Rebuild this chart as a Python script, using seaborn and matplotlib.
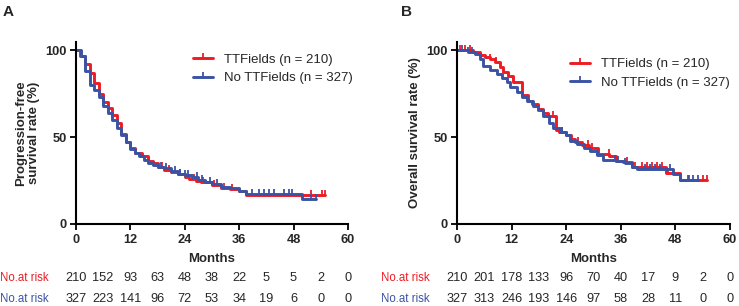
import numpy as np
import pandas as pd
import matplotlib
import matplotlib.pyplot as plt
import matplotlib.transforms as mtransforms
import seaborn as sns
from matplotlib.lines import Line2D

matplotlib.use('Agg')

RED = '#ED1C24'
BLUE = '#3A53A4'

# Panel A: progression-free survival (step times in months, survival %)
pfs_red_time = [0, 0.9, 2.0, 3.0, 4.0, 5.0, 6.0, 7.0, 8.0, 9.0, 10.0, 11.0, 12.0, 13.0,
                14.5, 16.0, 17.0, 18.0, 19.5, 21.0, 22.5, 24.0, 25.0, 26.5, 27.5, 30.0,
                32.0, 34.0, 36.0, 37.5, 55.0]
pfs_red_surv = [100, 97, 92, 87, 81, 75, 70, 67, 63, 58, 52, 47, 44, 41,
                39, 36.5, 35, 33, 31, 30, 28.5, 27, 26, 25, 24, 22.5,
                21, 20, 19, 16.5, 16.5]
pfs_red_cens = [19, 20.5, 23, 26, 28, 30.5, 32.7, 34.5, 51.8, 54.2, 55]

pfs_blue_time = [0, 1.2, 2.0, 3.0, 4.0, 5.0, 6.0, 7.0, 8.0, 9.0, 10.0, 11.0, 12.0, 13.0,
                 14.0, 15.0, 16.0, 17.0, 18.0, 19.5, 21.0, 22.5, 24.0, 25.5, 27.0, 28.5,
                 30.0, 32.0, 34.0, 36.0, 37.5, 49.8, 52.9]
pfs_blue_surv = [100, 97, 88, 80, 77, 73, 68, 64, 60, 55, 51, 47, 43, 41,
                 39, 37, 35, 34, 33, 32, 30.5, 29, 28, 27, 25.5, 24,
                 23, 21.5, 20.5, 19, 17.2, 14.5, 14.5]
pfs_blue_cens = [18.8, 19.8, 21.8, 22.9, 24, 24.8, 26.6, 27.8, 29.5, 31.2, 38.9, 40.4,
                 41.5, 42.6, 43.7, 45.9, 47, 47.7, 51.8, 52.9]

# Panel B: overall survival
os_red_time = [0, 3.5, 5.0, 6.2, 7.3, 8.4, 9.5, 10.2, 11.1, 12.4, 14.2, 15.5, 16.5, 17.8,
               18.8, 20.0, 21.8, 22.5, 24.0, 25.0, 26.0, 27.5, 29.0, 31.0, 33.5, 35.0,
               36.5, 38.5, 46.0, 49.0, 55.0]
os_red_surv = [100, 99, 97.5, 96, 95, 93, 90.5, 87.5, 85, 82, 74, 71, 69, 66,
               64, 62, 54, 53, 51, 49, 47, 45.5, 44, 40.5, 39, 36,
               35.5, 33, 29.5, 25.5, 25.5]
os_red_cens = [0.7, 1.8, 2.9, 7.3, 8.5, 21, 23, 26.5, 28.7, 29.7, 33.3, 37.3, 39.2, 40.6,
               41.7, 42.8, 43.9, 45, 46.4, 51, 54, 55]

os_blue_time = [0, 2.5, 4.0, 5.0, 5.7, 7.2, 8.7, 9.8, 11.0, 11.6, 13.1, 14.2, 15.3, 16.7,
                17.8, 18.9, 20.2, 21.0, 22.6, 24.0, 24.8, 26.3, 28.0, 29.2, 30.7, 32.0,
                35.0, 37.0, 38.5, 39.5, 47.5, 49.0, 53.0]
os_blue_surv = [100, 99, 98, 95, 91, 88.5, 86.5, 84, 82, 79, 76, 73, 71, 68,
                65.5, 62, 58, 55, 53, 51, 47.5, 46, 44, 42, 40, 37,
                36, 35, 33, 31.5, 29, 25.5, 25.5]
os_blue_cens = [1, 2.5, 3.2, 23, 30.7, 34.7, 35.4, 37, 41.3, 42.5, 43.5, 44.6, 46.8,
                50.7, 51.9, 53]

# Numbers at risk
risk_months = [0, 6, 12, 18, 24, 30, 36, 42, 48, 54, 60]
pfs_red_risk = [210, 152, 93, 63, 48, 38, 22, 5, 5, 2, 0]
pfs_blue_risk = [327, 223, 141, 96, 72, 53, 34, 19, 6, 0, 0]
os_red_risk = [210, 201, 178, 133, 96, 70, 40, 17, 9, 2, 0]
os_blue_risk = [327, 313, 246, 193, 146, 97, 58, 28, 11, 0, 0]

legend_labels = ['TTFields (n = 210)', 'No TTFields (n = 327)']

sns.set_style('ticks')
plt.rcParams['font.family'] = ['Liberation Sans', 'DejaVu Sans']


def step_value(times, surv, at):
    times = np.asarray(times)
    surv = np.asarray(surv)
    idx = np.searchsorted(times, at, side='right') - 1
    return surv[np.clip(idx, 0, len(surv) - 1)]


def draw_curve(ax, times, surv, cens, color):
    df = pd.DataFrame({'month': times, 'surv': surv})
    sns.lineplot(data=df, x='month', y='surv', ax=ax, color=color, lw=2.1,
                 drawstyle='steps-post', estimator=None, sort=False)
    ax.plot(cens, step_value(times, surv, cens), ls='none', marker=2,
            ms=3.5, mew=1.3, color=color)


def format_axis(ax, ylabel, labelpad):
    ax.set(xlim=(0, 60), ylim=(0, 105))
    ax.set_xticks(range(0, 61, 12))
    ax.set_yticks([0, 50, 100])
    for lab in ax.get_xticklabels() + ax.get_yticklabels():
        lab.set_fontweight('bold')
    ax.tick_params(axis='x', labelsize=9.2, length=4, width=1.3, pad=3.5, color='black')
    ax.tick_params(axis='y', labelsize=9.3, length=4.5, width=1.3, pad=2, color='black')
    for side in ['top', 'right']:
        ax.spines[side].set_visible(False)
    for side in ['left', 'bottom']:
        ax.spines[side].set_linewidth(1.5)
        ax.spines[side].set_color('black')
    ax.set_xlabel('Months', fontsize=9.5, fontweight='bold', labelpad=5)
    ax.set_ylabel(ylabel, fontsize=9.5, fontweight='bold', labelpad=labelpad,
                  linespacing=1.1)


def add_risk_table(ax, red_risk, blue_risk):
    trans = mtransforms.blended_transform_factory(ax.transData, ax.transAxes)
    for row_y, risk, color in [(-0.298, red_risk, RED), (-0.411, blue_risk, BLUE)]:
        ax.text(-6, row_y, 'No.at risk', color=color, fontsize=8.3,
                ha='right', va='center', transform=trans, clip_on=False)
        for m, n in zip(risk_months, risk):
            ax.text(m, row_y, str(n), fontsize=9.2, ha='center', va='center',
                    transform=trans, clip_on=False)


def add_legend(ax, anchor):
    handles = [Line2D([], [], color=c, lw=2.1, marker=2, ms=3.5, mew=1.3) for c in (RED, BLUE)]
    ax.legend(handles, legend_labels, loc='upper left', bbox_to_anchor=anchor,
              frameon=False, fontsize=9.5, borderpad=0, borderaxespad=0,
              handlelength=1.52, handletextpad=0.83, labelspacing=0.45)


fig = plt.figure(figsize=(7.39, 3.06), dpi=100)
ax_a = fig.add_axes([0.1028, 0.268, 0.368, 0.596])
ax_b = fig.add_axes([0.6184, 0.268, 0.3694, 0.596])

draw_curve(ax_a, pfs_red_time, pfs_red_surv, pfs_red_cens, RED)
draw_curve(ax_a, pfs_blue_time, pfs_blue_surv, pfs_blue_cens, BLUE)
format_axis(ax_a, 'Progression-free\nsurvival rate (%)', 4)
add_legend(ax_a, (0.43, 0.933))
add_risk_table(ax_a, pfs_red_risk, pfs_blue_risk)

draw_curve(ax_b, os_red_time, os_red_surv, os_red_cens, RED)
draw_curve(ax_b, os_blue_time, os_blue_surv, os_blue_cens, BLUE)
format_axis(ax_b, 'Overall survival rate (%)', 3.8)
add_legend(ax_b, (0.414, 0.909))
add_risk_table(ax_b, os_red_risk, os_blue_risk)

fig.text(0.003, 0.985, 'A', fontsize=11, fontweight='bold', va='top', ha='left')
fig.text(0.543, 0.985, 'B', fontsize=11, fontweight='bold', va='top', ha='left')

fig.savefig('out.png', dpi=100)
